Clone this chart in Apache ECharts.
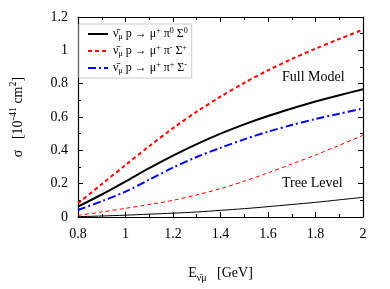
<!DOCTYPE html>
<html><head><meta charset="utf-8">
<script src="https://cdn.jsdelivr.net/npm/echarts@6/dist/echarts.min.js"></script>
<style>html,body{margin:0;padding:0;background:#fff}#c{width:390px;height:289px}</style>
</head><body><div id="c"></div>
<script>
const energies = [0.8,0.9,1.0,1.1,1.2,1.3,1.4,1.5,1.6,1.7,1.8,1.9,2.0];
const fullPi0 = [0.062,0.135,0.213,0.293,0.368,0.437,0.5,0.556,0.606,0.651,0.693,0.731,0.766];
const fullPiMinus = [0.082,0.197,0.312,0.425,0.533,0.632,0.722,0.805,0.88,0.948,1.01,1.068,1.124];
const fullPiPlus = [0.042,0.095,0.152,0.224,0.296,0.36,0.415,0.466,0.512,0.552,0.588,0.62,0.651];
const treePi0 = [0.002,0.006,0.011,0.017,0.023,0.03,0.04,0.05,0.062,0.075,0.088,0.103,0.118];
const treePiMinus = [0.01,0.03,0.052,0.075,0.1,0.133,0.17,0.215,0.265,0.318,0.372,0.43,0.49];
const xTicks = [0.8,1,1.2,1.4,1.6,1.8,2];
const yTicks = [0,0.2,0.4,0.6,0.8,1,1.2];

const pairs = v => energies.map((e,i)=>[e,v[i]]);
const FONT = '"Liberation Serif", "DejaVu Serif", serif';
const legendLabels = {
  'pi0': '{t|ν̄}{s|μ}{t| p → μ}{p|+}{t| π}{p|0}{t| Σ}{p|0}',
  'pim': '{t|ν̄}{s|μ}{t| p → μ}{p|+}{t| π}{p|-}{t| Σ}{p|+}',
  'pip': '{t|ν̄}{s|μ}{t| p → μ}{p|+}{t| π}{p|+}{t| Σ}{p|-}'
};
const chart = echarts.init(document.getElementById('c'));
const axisCommon = {
  type:'value',
  axisLine:{show:true,onZero:false,lineStyle:{color:'#000',width:1.2}},
  axisTick:{show:true,inside:true,length:5,lineStyle:{color:'#000'}},
  minorTick:{show:true,splitNumber:2,length:3,lineStyle:{color:'#000'}},
  splitLine:{show:false}
};
chart.setOption({
  animation:false,
  grid:{left:70,right:27,top:17,bottom:72},
  legend:{
    data:['pi0','pim','pip'],
    left:79, top:24, orient:'vertical',
    backgroundColor:'#fff', borderColor:'#ccc', borderWidth:1,
    padding:[3,4,3,8], itemWidth:20, itemHeight:10, itemGap:3,
    itemStyle:{opacity:0},
    formatter: n => legendLabels[n],
    textStyle:{fontFamily:FONT,color:'#000',
      rich:{
        t:{fontSize:12,fontFamily:FONT,lineHeight:14,verticalAlign:'middle'},
        s:{fontSize:8,fontFamily:FONT,lineHeight:14,verticalAlign:'bottom'},
        p:{fontSize:8,fontFamily:FONT,lineHeight:14,verticalAlign:'top'}
      }}
  },
  xAxis:[Object.assign({},axisCommon,{
    min:0.8,max:2,interval:0.2,position:'bottom',
    axisLabel:{margin:10,fontSize:14,fontFamily:FONT,color:'#000',
      formatter:v=>{const t=xTicks.find(x=>Math.abs(x-v)<1e-6);return t===undefined?'':String(t);}},
    name:'{t|E}{s|ν̄μ}{t|   [GeV]}', nameLocation:'middle', nameGap:46,
    nameTextStyle:{rich:{
      t:{fontSize:14,fontFamily:FONT,color:'#000',lineHeight:20,verticalAlign:'middle'},
      s:{fontSize:10,fontFamily:FONT,color:'#000',lineHeight:20,verticalAlign:'bottom'}}}
  }),Object.assign({},axisCommon,{
    min:0.8,max:2,interval:0.2,position:'top',axisLabel:{show:false}
  })],
  yAxis:[Object.assign({},axisCommon,{
    min:0,max:1.2,interval:0.2,position:'left',
    axisLabel:{margin:10,fontSize:14,fontFamily:FONT,color:'#000',
      formatter:v=>{const t=yTicks.find(x=>Math.abs(x-v)<1e-6);return t===undefined?'':String(t);}},
    name:'{t|σ   [10}{p|-41}{t| cm}{p|2}{t|]}', nameLocation:'middle', nameGap:50, nameRotate:90,
    nameTextStyle:{rich:{
      t:{fontSize:14,fontFamily:FONT,color:'#000',lineHeight:20,verticalAlign:'middle'},
      p:{fontSize:10,fontFamily:FONT,color:'#000',lineHeight:20,verticalAlign:'top'}}}
  }),Object.assign({},axisCommon,{
    min:0,max:1.2,interval:0.2,position:'right',axisLabel:{show:false}
  })],
  series:[
    {name:'pi0',type:'line',data:pairs(fullPi0),smooth:0.3,symbol:'none',
      lineStyle:{color:'#000',width:2,type:'solid'},itemStyle:{color:'#000'}},
    {name:'pim',type:'line',data:pairs(fullPiMinus),smooth:0.3,symbol:'none',
      lineStyle:{color:'#ff0000',width:2,type:[4,3]},itemStyle:{color:'#ff0000'}},
    {name:'pip',type:'line',data:pairs(fullPiPlus),smooth:0.3,symbol:'none',
      lineStyle:{color:'#0000ff',width:2,type:[8,3,2,3]},itemStyle:{color:'#0000ff'}},
    {name:'tree0',type:'line',data:pairs(treePi0),smooth:0.3,symbol:'none',
      lineStyle:{color:'#000',width:1,type:'solid'}},
    {name:'treem',type:'line',data:pairs(treePiMinus),smooth:0.3,symbol:'none',
      lineStyle:{color:'#ff0000',width:1,type:[4,3]}}
  ],
  graphic:[
    {type:'text',left:282,top:70,style:{text:'Full Model',font:'14px '+FONT,fill:'#000'}},
    {type:'text',left:282,top:176,style:{text:'Tree Level',font:'14px '+FONT,fill:'#000'}}
  ]
});
</script></body></html>
